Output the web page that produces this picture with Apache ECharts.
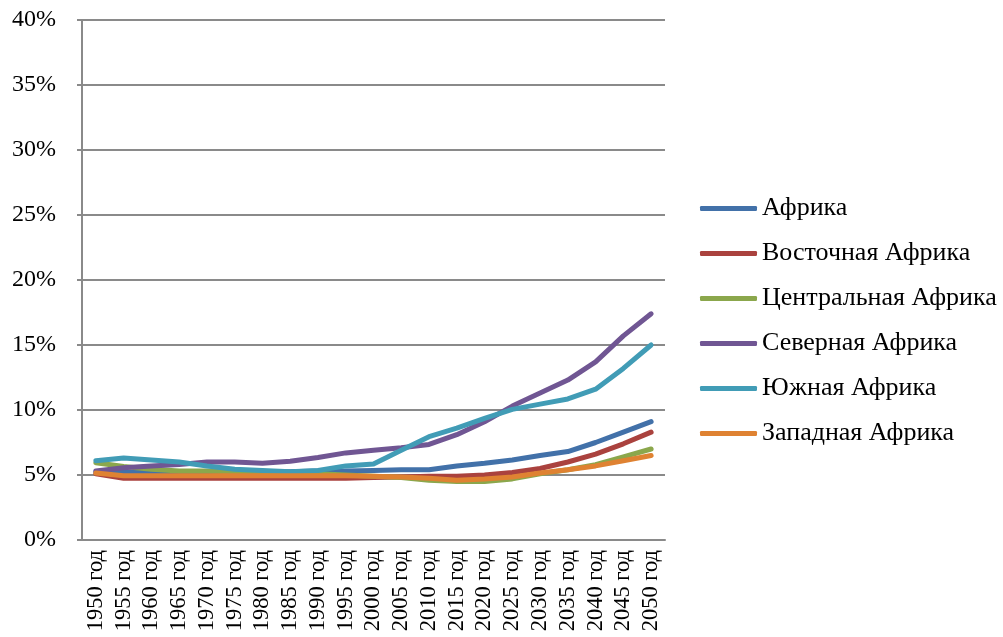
<!DOCTYPE html>
<html>
<head>
<meta charset="utf-8">
<script src="https://cdn.jsdelivr.net/npm/echarts@6/dist/echarts.min.js"></script>
<style>
  html, body { margin: 0; padding: 0; background: #fff; }
  #chart { width: 1003px; height: 637px; }
</style>
</head>
<body>
<div id="chart"></div>
<script>
// Share of population by region, 1950–2050 (percent)
const years = [1950, 1955, 1960, 1965, 1970, 1975, 1980, 1985, 1990, 1995, 2000,
               2005, 2010, 2015, 2020, 2025, 2030, 2035, 2040, 2045, 2050];
const categories = years.map(y => y + ' год');

const africa  = [5.25, 5.2, 5.2, 5.2, 5.2, 5.2, 5.25, 5.25, 5.3, 5.3, 5.35, 5.4, 5.4, 5.7, 5.9, 6.15, 6.5, 6.8, 7.5, 8.3, 9.1];
const east    = [5.1, 4.75, 4.75, 4.75, 4.75, 4.75, 4.75, 4.75, 4.75, 4.75, 4.8, 4.85, 4.9, 4.9, 5.0, 5.2, 5.5, 6.0, 6.6, 7.4, 8.3];
const central = [5.95, 5.65, 5.45, 5.3, 5.3, 5.25, 5.25, 5.2, 5.1, 5.0, 4.9, 4.8, 4.6, 4.5, 4.5, 4.7, 5.1, 5.4, 5.8, 6.4, 7.0];
const north   = [5.3, 5.55, 5.7, 5.8, 6.0, 6.0, 5.9, 6.05, 6.35, 6.7, 6.9, 7.1, 7.35, 8.1, 9.1, 10.3, 11.3, 12.3, 13.7, 15.7, 17.4];
const south   = [6.1, 6.3, 6.15, 6.0, 5.7, 5.45, 5.35, 5.25, 5.35, 5.7, 5.85, 6.9, 7.95, 8.6, 9.35, 10.05, 10.45, 10.85, 11.6, 13.2, 15.0];
const west    = [5.15, 4.95, 4.95, 4.95, 4.95, 4.95, 4.95, 4.95, 4.95, 4.95, 4.9, 4.85, 4.75, 4.6, 4.7, 4.85, 5.15, 5.4, 5.7, 6.1, 6.5];

const seriesNames = ['Африка', 'Восточная Африка', 'Центральная Африка',
                     'Северная Африка', 'Южная Африка', 'Западная Африка'];
const seriesData = [africa, east, central, north, south, west];
const colors = ['#4271a9', '#aa423e', '#8ba74c', '#705693', '#419cb6', '#df8232'];

const yTicks = { min: 0, max: 40, interval: 5 };

const FONT = "'Liberation Serif', 'Times New Roman', serif";

const chart = echarts.init(document.getElementById('chart'), null, { renderer: 'canvas' });

chart.setOption({
  animation: false,
  color: colors,
  textStyle: { fontFamily: FONT, color: '#000' },
  grid: { left: 82, top: 20, right: 338, bottom: 97, containLabel: false },
  legend: {
    orient: 'vertical',
    left: 695,
    top: 190,
    itemWidth: 57,
    itemHeight: 5,
    itemGap: 18,
    icon: 'roundRect',
    textStyle: { fontFamily: FONT, fontSize: 26, color: '#000', lineHeight: 27 },
    data: seriesNames
  },
  xAxis: {
    type: 'category',
    data: categories,
    boundaryGap: true,
    axisLine: { show: true, lineStyle: { color: '#8a8a8a', width: 2 } },
    axisTick: { show: false },
    axisLabel: {
      rotate: 90,
      margin: 10,
      interval: 0,
      fontFamily: FONT,
      fontSize: 22.5,
      color: '#000'
    },
    splitLine: { show: false }
  },
  yAxis: {
    type: 'value',
    min: yTicks.min,
    max: yTicks.max,
    interval: yTicks.interval,
    axisLine: { show: true, lineStyle: { color: '#8a8a8a', width: 2 } },
    axisTick: { show: true, inside: false, length: 5, lineStyle: { color: '#8a8a8a', width: 2 } },
    axisLabel: {
      formatter: '{value}%',
      margin: 26,
      fontFamily: FONT,
      fontSize: 24,
      color: '#000'
    },
    splitLine: { show: true, lineStyle: { color: '#8a8a8a', width: 2 } }
  },
  series: seriesNames.map((name, i) => ({
    name: name,
    type: 'line',
    data: seriesData[i],
    showSymbol: false,
    symbol: 'none',
    smooth: false,
    lineStyle: { width: 5, color: colors[i], cap: 'round', join: 'round' },
    itemStyle: { color: colors[i] },
    emphasis: { disabled: true }
  }))
});
</script>
</body>
</html>
